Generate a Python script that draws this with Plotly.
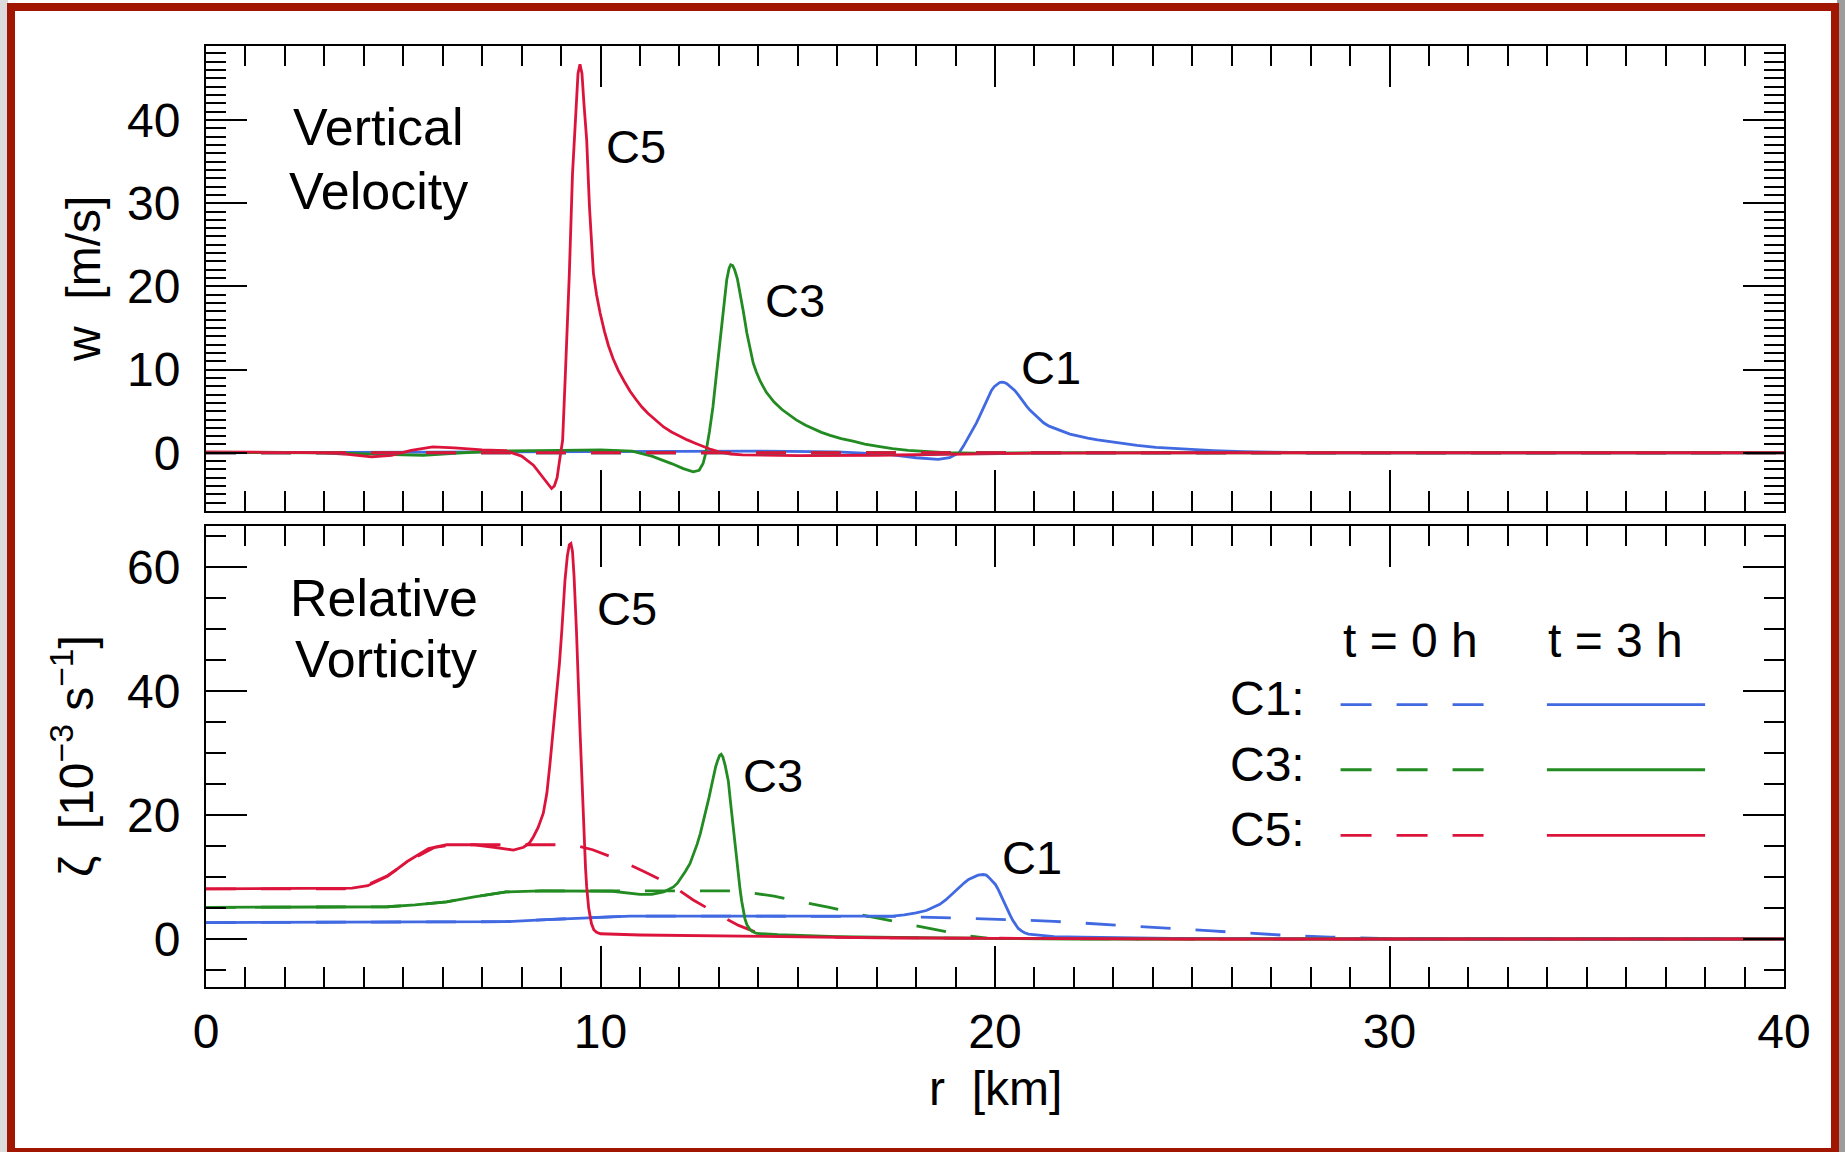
import plotly.graph_objects as go

# ---------------- data ----------------
# Vertical velocity w [m/s] at t = 3 h
r_w_c1 = [0, 10, 14, 16, 17.3, 18.0, 18.56, 18.85, 19.09, 19.2, 19.3, 19.42, 19.53, 19.64, 19.75,
          19.84, 19.91, 19.98, 20.05, 20.12, 20.18, 20.24, 20.3, 20.4, 20.5, 20.6, 20.7, 20.8,
          20.89, 21.0, 21.1, 21.23, 21.37, 21.52, 21.7, 21.9, 22.14, 22.35, 22.6, 22.85, 23.12,
          23.6, 24.08, 24.8, 25.54, 26.3, 27, 28, 40]
w_c1 = [0, 0.1, 0.2, 0.1, -0.2, -0.6, -0.8, -0.6, 0, 0.8, 1.6, 2.6, 3.6, 4.7, 5.8,
        6.8, 7.5, 7.95, 8.25, 8.45, 8.5, 8.45, 8.3, 7.95, 7.5, 6.9, 6.2, 5.6,
        5.1, 4.6, 4.1, 3.6, 3.2, 2.9, 2.6, 2.25, 1.95, 1.75, 1.55, 1.38, 1.2,
        0.9, 0.65, 0.42, 0.26, 0.13, 0.05, 0, 0]

r_w_c3 = [0, 3, 4.5, 5.5, 6.5, 7.5, 9, 10, 10.8, 11.3, 11.8, 12.1, 12.35, 12.5, 12.6, 12.67,
          12.76, 12.85, 12.94, 13.03, 13.12, 13.2, 13.26, 13.3, 13.35, 13.4, 13.47, 13.54,
          13.62, 13.71, 13.79, 13.87, 13.95, 14.05, 14.2, 14.4, 14.6, 14.8, 14.96, 15.2, 15.4,
          15.6, 15.82, 16.1, 16.4, 16.7, 17.08, 17.4, 17.8, 18.3, 18.75, 19.5, 22, 40]
w_c3 = [0.05, 0.0, -0.2, -0.3, 0.0, 0.2, 0.3, 0.35, 0.2, -0.4, -1.3, -1.9, -2.3, -2.1, -1.3, 0,
        2.5, 5.5, 9.5, 13.5, 17.4, 20.8, 22.2, 22.6, 22.5, 22.0, 20.9, 19.2,
        17.0, 14.4, 12.4, 10.8, 9.7, 8.6, 7.3, 6.1, 5.2, 4.5, 3.95, 3.3, 2.85,
        2.45, 2.1, 1.7, 1.4, 1.05, 0.75, 0.5, 0.3, 0.12, 0.0, -0.05, 0, 0]

r_w_c5 = [0, 1, 2, 3, 3.6, 4.2, 4.7, 5.2, 5.75, 6.3, 7.0, 7.6, 8.0, 8.3, 8.55, 8.7, 8.76, 8.83,
          8.9, 8.96, 9.04, 9.11, 9.21, 9.29, 9.37, 9.43, 9.48, 9.53, 9.58, 9.65, 9.72, 9.82,
          9.9, 9.99, 10.1, 10.2, 10.32, 10.45, 10.6, 10.75, 10.9, 11.05, 11.2, 11.4, 11.6,
          11.8, 12.0, 12.2, 12.4, 12.6, 12.8, 13.0, 13.3, 13.6, 15, 17, 19, 21, 25, 40]
w_c5 = [0.1, 0.1, 0.05, 0.0, -0.2, -0.5, -0.3, 0.3, 0.7, 0.6, 0.35, 0.25, -0.4, -1.5, -3.0, -4.0, -4.3, -4.0,
        -3.0, -1.0, 1.5, 9.5, 21.5, 33.5, 41.5, 45.6, 46.7, 45.6, 42.0, 37.6, 29.6, 21.6,
        19.0, 16.8, 14.6, 12.9, 11.3, 9.9, 8.6, 7.4, 6.4, 5.5, 4.75, 3.9, 3.1,
        2.5, 2.0, 1.55, 1.15, 0.75, 0.4, 0.1, -0.15, -0.25, -0.35, -0.3, -0.15, -0.05, 0, 0]

# Vertical velocity at t = 0 h (initially at rest)
r_w0 = [0, 40]
w0_c1 = [0, 0]
w0_c3 = [0, 0]
w0_c5 = [0, 0]

# Relative vorticity zeta [1e-3 s^-1] at t = 3 h
r_z_c1 = [0, 5, 7.6, 8.5, 9.48, 10.75, 14, 17.1, 17.4, 17.7, 18.0, 18.26, 18.45, 18.6, 18.75,
          18.85, 18.95, 19.05, 19.15, 19.23, 19.33, 19.45, 19.57, 19.7, 19.78, 19.85, 19.93,
          20.01, 20.08, 20.15, 20.22, 20.3, 20.38, 20.45, 20.52, 20.59, 20.67, 20.75, 20.85,
          20.98, 21.2, 21.5, 22.2, 23, 24.5, 26, 30, 40]
z_c1 = [2.65, 2.7, 2.8, 3.1, 3.4, 3.7, 3.7, 3.6, 3.7, 3.9, 4.2, 4.6, 5.1, 5.6, 6.3,
        6.9, 7.5, 8.0, 8.6, 9.1, 9.6, 10.0, 10.3, 10.4, 10.3, 9.9, 9.4,
        8.8, 8.0, 7.0, 5.9, 4.9, 3.9, 3.0, 2.3, 1.7, 1.3, 1.0, 0.8,
        0.7, 0.55, 0.4, 0.28, 0.2, 0.1, 0.05, 0, 0]

r_z_c3 = [0, 4.0, 4.6, 5.3, 6.1, 6.8, 7.62, 8.5, 10.3, 11.0, 11.3, 11.6, 11.85, 11.95, 12.05,
          12.15, 12.27, 12.36, 12.45, 12.53, 12.6, 12.68, 12.75, 12.81, 12.86, 12.92, 12.97,
          13.02, 13.06, 13.1, 13.16, 13.24, 13.3, 13.37, 13.42, 13.46, 13.5, 13.54, 13.58,
          13.62, 13.66, 13.71, 13.78, 13.85, 13.96, 14.5, 16, 18, 20, 22, 40]
z_c3 = [5.1, 5.1, 5.2, 5.5, 6.0, 6.8, 7.6, 7.75, 7.7, 7.2, 7.2, 7.6, 8.4, 9.0, 9.9,
        10.9, 12.2, 13.6, 15.3, 17.0, 18.7, 20.8, 22.8, 24.6, 26.2, 27.8, 28.8,
        29.6, 29.8, 29.4, 28.0, 25.5, 21.8, 17.6, 14.5, 12.2, 10.0, 7.9, 6.1,
        4.5, 3.3, 2.3, 1.6, 1.2, 0.9, 0.7, 0.4, 0.2, 0.1, 0, 0]

r_z_c5 = [0, 3.0, 3.7, 4.1, 4.6, 5.1, 5.64, 6.1, 6.8, 7.3, 7.79, 8.05, 8.2, 8.3, 8.42, 8.55,
          8.64, 8.72, 8.8, 8.89, 8.96, 9.02, 9.1, 9.16, 9.21, 9.25, 9.29, 9.33, 9.39, 9.48,
          9.57, 9.62, 9.65, 9.7, 9.77, 9.83, 9.9, 10.0, 11, 12.8, 15, 17, 20, 25, 40]
z_c5 = [8.1, 8.1, 8.2, 8.6, 10.1, 12.5, 14.6, 15.2, 15.2, 14.8, 14.35, 14.8, 15.5, 16.5, 18.0, 20.3,
        23.5, 28.3, 33.5, 39.1, 44.5, 49.8, 57.9, 61.8, 63.6, 63.8, 62.5, 58.5, 49.8, 33.7,
        17.6, 11.5, 8.4, 5.0, 2.5, 1.5, 1.1, 0.85, 0.65, 0.5, 0.3, 0.2, 0.1, 0.0, 0]

# Relative vorticity at t = 0 h
r_z0_c1 = [0, 5, 7.6, 8.5, 9.48, 10.75, 17.5, 18.5, 19.5, 20.5, 21.5, 22.5, 23.5, 24.5, 25.5,
           26.5, 27.5, 28.5, 29.5, 30.5, 40]
z0_c1 = [2.65, 2.7, 2.8, 3.1, 3.4, 3.7, 3.65, 3.5, 3.3, 3.1, 2.85, 2.5, 2.1, 1.7, 1.3,
         0.9, 0.55, 0.3, 0.1, 0.0, 0]

r_z0_c3 = [0, 4.0, 4.6, 5.3, 6.1, 6.8, 7.6, 8.5, 13.5, 14.4, 15.1, 15.8, 16.6, 17.4, 18.0,
           18.7, 19.3, 19.8, 20.5, 40]
z0_c3 = [5.1, 5.1, 5.2, 5.5, 6.0, 6.8, 7.6, 7.75, 7.75, 6.9, 6.0, 5.1, 3.9, 2.9, 2.1,
         1.3, 0.5, 0.15, 0.05, 0]

r_z0_c5 = [0, 3.5, 4.0, 4.6, 5.2, 5.8, 6.3, 9.3, 9.8, 10.5, 11.1, 11.8, 12.35, 13.0, 13.5,
           13.9, 14.3, 15, 17, 20, 25, 40]
z0_c5 = [8.1, 8.1, 8.5, 10.2, 12.8, 14.8, 15.2, 15.2, 14.4, 12.7, 10.9, 8.7, 6.3, 3.9, 2.2,
         1.2, 0.7, 0.4, 0.2, 0.1, 0, 0]

case_names = ["C1", "C3", "C5"]
time_labels = ["t = 0 h", "t = 3 h"]

# ---------------- style ----------------
BLUE = "#4169E1"
GREEN = "#228B22"
RED = "#DC143C"
colors = {"C1": BLUE, "C3": GREEN, "C5": RED}
FONT = "Liberation Sans, Arial, Helvetica, sans-serif"
LW = 2.8
DASH = "30px,25px"

W, H = 1845, 1152
ML, MR, MT, MB = 206, 61, 46, 165
PW, PH = W - ML - MR, H - MT - MB


def px_x(X):
    return (X - ML) / PW


def px_y(Y):
    return (H - MB - Y) / PH


fig = go.Figure()

# upper panel: t = 3 h curves, then the initial (dashed) state on top
w_sets = {"C1": (r_w_c1, w_c1), "C3": (r_w_c3, w_c3), "C5": (r_w_c5, w_c5)}
w0_sets = {"C1": (r_w0, w0_c1), "C3": (r_w0, w0_c3), "C5": (r_w0, w0_c5)}
for c in case_names:
    fig.add_trace(go.Scatter(x=w_sets[c][0], y=w_sets[c][1], mode="lines",
                             line=dict(color=colors[c], width=LW),
                             xaxis="x", yaxis="y", name=c + " 3h"))
for c in case_names:
    fig.add_trace(go.Scatter(x=w0_sets[c][0], y=w0_sets[c][1], mode="lines",
                             line=dict(color=colors[c], width=LW, dash=DASH),
                             xaxis="x", yaxis="y", name=c + " 0h"))

# lower panel
z_sets = {"C1": (r_z_c1, z_c1), "C3": (r_z_c3, z_c3), "C5": (r_z_c5, z_c5)}
z0_sets = {"C1": (r_z0_c1, z0_c1), "C3": (r_z0_c3, z0_c3), "C5": (r_z0_c5, z0_c5)}
for c in case_names:
    fig.add_trace(go.Scatter(x=z0_sets[c][0], y=z0_sets[c][1], mode="lines",
                             line=dict(color=colors[c], width=LW, dash=DASH),
                             xaxis="x2", yaxis="y2", name=c + " 0h"))
for c in case_names:
    fig.add_trace(go.Scatter(x=z_sets[c][0], y=z_sets[c][1], mode="lines",
                             line=dict(color=colors[c], width=LW),
                             xaxis="x2", yaxis="y2", name=c + " 3h"))

tick_common = dict(showline=True, linecolor="black", linewidth=2, mirror="allticks",
                   ticks="inside", tickcolor="black", tickwidth=2, ticklen=41,
                   showgrid=False, zeroline=False,
                   tickfont=dict(family=FONT, size=48, color="black"))

x_common = dict(tick_common, range=[0, 40], tick0=0, dtick=10,
                minor=dict(ticks="inside", dtick=1, ticklen=20, tickwidth=2, tickcolor="black",
                           showgrid=False))

top_dom = [px_y(511), 1.0]
bot_dom = [0.0, px_y(525.7)]

fig.update_layout(
    width=W, height=H,
    margin=dict(l=ML, r=MR, t=MT, b=MB, pad=0),
    paper_bgcolor="white", plot_bgcolor="white",
    showlegend=False,
    font=dict(family=FONT, size=48, color="black"),
    xaxis=dict(x_common, anchor="y", domain=[0, 1], showticklabels=False),
    yaxis=dict(tick_common, anchor="x", domain=top_dom, range=[-7.0, 48.9], tick0=0, dtick=10,
               ticklabelstandoff=14,
               minor=dict(ticks="inside", dtick=1, ticklen=20, tickwidth=2, tickcolor="black",
                          showgrid=False)),
    xaxis2=dict(x_common, anchor="y2", domain=[0, 1], ticklabelstandoff=1),
    yaxis2=dict(tick_common, anchor="x2", domain=bot_dom, range=[-7.74, 66.66], tick0=0, dtick=20,
                ticklabelstandoff=14,
                minor=dict(ticks="inside", dtick=5, ticklen=20, tickwidth=2, tickcolor="black",
                           showgrid=False)),
)

ann = []


def txt(text, x, y, xref, yref, size=48, xanchor="center", yanchor="middle", angle=0):
    ann.append(dict(text=text, x=x, y=y, xref=xref, yref=yref, showarrow=False,
                    xanchor=xanchor, yanchor=yanchor, textangle=angle,
                    font=dict(family=FONT, size=size, color="black")))


# panel titles
txt("Vertical", 4.36, 39.2, "x", "y", size=52)
txt("Velocity", 4.36, 31.5, "x", "y", size=52)
txt("Relative", 4.52, 55.0, "x2", "y2", size=52)
txt("Vorticity", 4.56, 45.2, "x2", "y2", size=52)

# case labels at the peaks
txt("C5", 10.9, 36.8, "x", "y", size=47)
txt("C3", 14.93, 18.3, "x", "y", size=47)
txt("C1", 21.43, 10.3, "x", "y", size=47)
txt("C5", 10.68, 53.3, "x2", "y2", size=47)
txt("C3", 14.38, 26.3, "x2", "y2", size=47)
txt("C1", 20.95, 13.2, "x2", "y2", size=47)

# axis titles
txt("w\u00a0\u00a0[m/s]", px_x(83), px_y(279), "paper", "paper", angle=-90)
txt("\u03b6\u00a0\u00a0[10<sup>\u22123</sup>\u00a0s<sup>\u22121</sup>]", px_x(73), px_y(756),
    "paper", "paper", angle=-90)
txt("r\u00a0\u00a0[km]", px_x(995), px_y(1088), "paper", "paper")

# key for line styles
txt(time_labels[0], 30.52, 48.2, "x2", "y2")
txt(time_labels[1], 35.72, 48.2, "x2", "y2")
key_rows = {"C1": (38.8, 37.8), "C3": (28.2, 27.3), "C5": (17.7, 16.7)}
shapes = []
for c in case_names:
    ty, ly = key_rows[c]
    txt(c + ":", 27.91, ty, "x2", "y2", xanchor="right")
    shapes.append(dict(type="line", xref="x2", yref="y2", x0=28.76, x1=32.41, y0=ly, y1=ly,
                       line=dict(color=colors[c], width=LW, dash="31px,25px")))
    shapes.append(dict(type="line", xref="x2", yref="y2", x0=33.99, x1=38.0, y0=ly, y1=ly,
                       line=dict(color=colors[c], width=LW)))

# page frame with drop shadow
shapes.append(dict(type="rect", xref="paper", yref="paper", x0=px_x(0), x1=px_x(8),
                   y0=px_y(0), y1=px_y(H), line=dict(width=0), fillcolor="#dcdcdc", layer="below"))
shapes.append(dict(type="rect", xref="paper", yref="paper", x0=px_x(1837), x1=px_x(W),
                   y0=px_y(0), y1=px_y(H), line=dict(width=0), fillcolor="#9c9c9c", layer="below"))
shapes.append(dict(type="rect", xref="paper", yref="paper", x0=px_x(11), x1=px_x(1835),
                   y0=px_y(7), y1=px_y(1152), line=dict(color="#A11600", width=8),
                   fillcolor="rgba(0,0,0,0)", layer="below"))

fig.update_layout(annotations=ann, shapes=shapes)

fig.write_html("out.html")
